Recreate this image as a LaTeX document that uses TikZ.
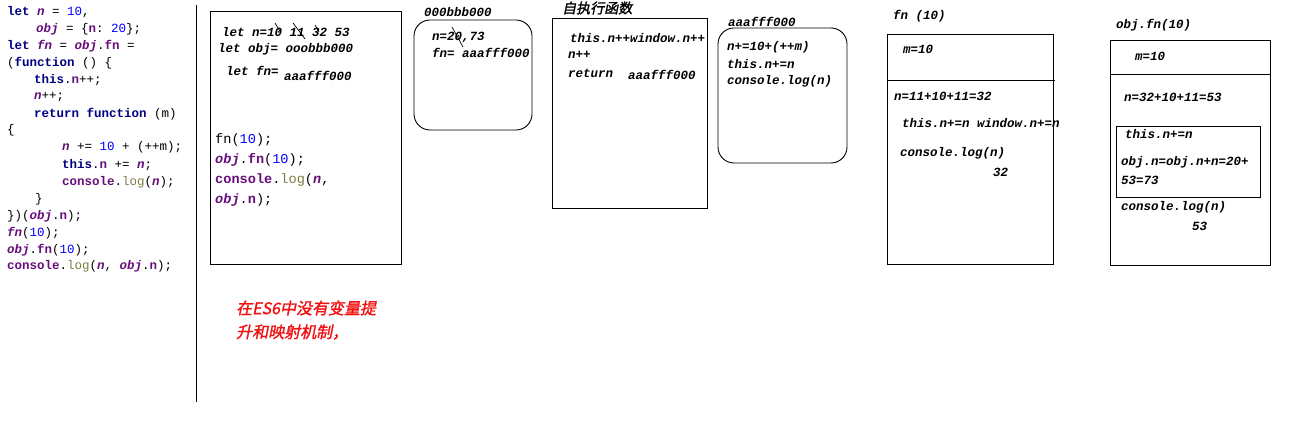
\documentclass[tikz,border=0pt]{standalone}
\usepackage{fontspec}
\setmonofont{Liberation Mono}
\newfontfamily\cjkfont[FakeSlant=0.2,FakeBold=1.5]{Noto Sans CJK SC}
\usepackage{xcolor}
\usepackage{tikz}
\definecolor{kwnavy}{HTML}{000080}
\definecolor{varpurple}{HTML}{660E7A}
\definecolor{numblue}{HTML}{0000FF}
\definecolor{logolive}{HTML}{7A7A43}
\definecolor{notered}{HTML}{F01010}
\newcommand{\jskw}[1]{\textcolor{kwnavy}{\bfseries #1}}
\newcommand{\jsvar}[1]{\textcolor{varpurple}{\bfseries\itshape #1}}
\newcommand{\jsprop}[1]{\textcolor{varpurple}{\bfseries #1}}
\newcommand{\jsnum}[1]{\textcolor{numblue}{#1}}
\newcommand{\jslog}[1]{\textcolor{logolive}{#1}}

\begin{document}
\begin{tikzpicture}[x=1pt, y=-1pt,
    codeln/.style={font=\ttfamily\fontsize{12.5}{14}\selectfont, anchor=west, inner sep=0pt},
    bigcode/.style={font=\ttfamily\fontsize{13.6}{16}\selectfont, anchor=west, inner sep=0pt},
    note/.style={font=\ttfamily\bfseries\itshape\fontsize{12.5}{14}\selectfont, anchor=west, inner sep=0pt},
    cjknote/.style={font=\cjkfont\fontsize{14}{16}\selectfont, anchor=west, inner sep=0pt},
    rednote/.style={font=\cjkfont\fontsize{16}{18}\selectfont, text=notered, anchor=west, inner sep=0pt},
    frame/.style={draw, line width=0.9pt},
    heap/.style={draw, line width=0.9pt, rounded corners=16pt},
    strike/.style={line width=0.7pt},
  ]
  \useasboundingbox (0,0) rectangle (1307,438);

  % source code
  \node[codeln] (code1)  at (7,12.3)   {\jskw{let} \jsvar{n} = \jsnum{10},};
  \node[codeln] (code2)  at (36,29.3)  {\jsvar{obj} = \{\jsprop{n}: \jsnum{20}\};};
  \node[codeln] (code3)  at (7,46)     {\jskw{let} \jsvar{fn} = \jsvar{obj}.\jsprop{fn} =};
  \node[codeln] (code4)  at (7,62.7)   {(\jskw{function} () \{};
  \node[codeln] (code5)  at (34,80)    {\jskw{this}.\jsprop{n}++;};
  \node[codeln] (code6)  at (34,96.7)  {\jsvar{n}++;};
  \node[codeln] (code7)  at (34,114)   {\jskw{return} \jskw{function} (m)};
  \node[codeln] (code8)  at (7,130.7)  {\{};
  \node[codeln] (code9)  at (62,147.7) {\jsvar{n} += \jsnum{10} + (++m);};
  \node[codeln] (code10) at (62,164.7) {\jskw{this}.\jsprop{n} += \jsvar{n};};
  \node[codeln] (code11) at (62,182)   {\jsprop{console}.\jslog{log}(\jsvar{n});};
  \node[codeln] (code12) at (35,199)   {\}};
  \node[codeln] (code13) at (7,216)    {\})(\jsvar{obj}.\jsprop{n});};
  \node[codeln] (code14) at (7,233)    {\jsvar{fn}(\jsnum{10});};
  \node[codeln] (code15) at (7,250)    {\jsvar{obj}.\jsprop{fn}(\jsnum{10});};
  \node[codeln] (code16) at (7,266.7)  {\jsprop{console}.\jslog{log}(\jsvar{n}, \jsvar{obj}.\jsprop{n});};
  \draw[line width=0.9pt] (196,5) -- (196,402);

  % global scope
  \draw[frame] (210,11) rectangle (401,264);
  \node[note] (gn)   at (222,32.3) {let n=10 11 32 53};
  \node[note] (gobj) at (218,49)   {let obj= ooobbb000};
  \node[note] (gfn)  at (226,71)   {let fn=};
  \node[note] (gfnv) at (284,76)   {aaafff000};
  \draw[strike] (275,23) -- (281,33);
  \draw[strike] (293,23) -- (305,39);
  \draw[strike] (315,25) -- (319,32);
  \node[bigcode] (call1) at (215,140) {fn(\jsnum{10});};
  \node[bigcode] (call2) at (215,160) {\jsvar{obj}.\jsprop{fn}(\jsnum{10});};
  \node[bigcode] (call3) at (215,180) {\jsprop{console}.\jslog{log}(\jsvar{n},};
  \node[bigcode] (call4) at (215,200) {\jsvar{obj}.\jsprop{n});};
  \node[rednote] (es6a) at (236,308) {在ES6中没有变量提};
  \node[rednote] (es6b) at (236,332) {升和映射机制，};

  % object heap
  \node[note] (objaddr) at (424,12) {000bbb000};
  \draw[heap] (414,20) rectangle (532,130);
  \node[note] (objn)  at (432,37) {n=20,73};
  \node[note] (objfn) at (432,53) {fn= aaafff000};
  \draw[strike] (452,27) -- (463,47);

  % self-invoking function
  \node[cjknote] (selfttl) at (562,8) {自执行函数};
  \draw[frame] (552,18) rectangle (707,208);
  \node[note] (self1) at (570,38) {this.n++window.n++};
  \node[note] (self2) at (568,55) {n++};
  \node[note] (self3) at (568,73) {return};
  \node[note] (self4) at (628,75) {aaafff000};

  % function heap
  \node[note] (fnaddr) at (728,22) {aaafff000};
  \draw[heap] (718,28) rectangle (847,163);
  \node[note] (fnb1) at (727,47) {n+=10+(++m)};
  \node[note] (fnb2) at (727,64) {this.n+=n};
  \node[note] (fnb3) at (727,81) {console.log(n)};

  % fn(10)
  \node[note] (ctx1) at (893,16) {fn (10)};
  \draw[frame] (887,34) rectangle (1053,264);
  \draw[frame] (887,80) -- (1055,80);
  \node[note] (ctx1m)  at (903,49)  {m=10};
  \node[note] (ctx1n)  at (894,96)  {n=11+10+11=32};
  \node[note] (ctx1t)  at (902,123) {this.n+=n window.n+=n};
  \node[note] (ctx1c)  at (900,153) {console.log(n)};
  \node[note] (ctx1o)  at (993,172) {32};

  % obj.fn(10)
  \node[note] (ctx2) at (1116,25) {obj.fn(10)};
  \draw[frame] (1110,40) rectangle (1270,265);
  \draw[frame] (1110,74) -- (1270,74);
  \node[note] (ctx2m) at (1135,56)  {m=10};
  \node[note] (ctx2n) at (1124,97)  {n=32+10+11=53};
  \draw[frame] (1116,126) rectangle (1260,197);
  \node[note] (ctx2t) at (1125,134) {this.n+=n};
  \node[note] (ctx2a) at (1121,162) {obj.n=obj.n+n=20+};
  \node[note] (ctx2b) at (1121,180) {53=73};
  \node[note] (ctx2c) at (1121,207) {console.log(n)};
  \node[note] (ctx2o) at (1192,226) {53};
\end{tikzpicture}
\end{document}
